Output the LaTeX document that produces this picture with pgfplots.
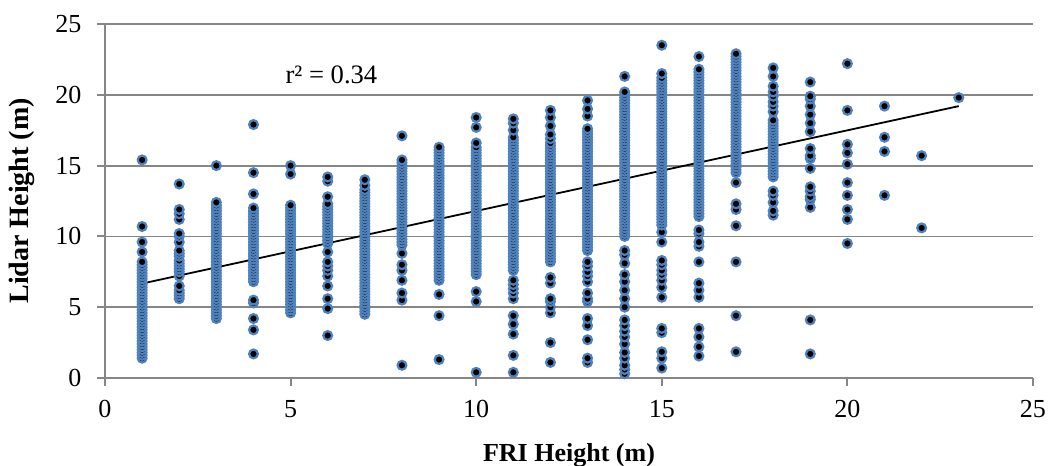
\documentclass[border=0pt]{standalone}
\usepackage{pgfplots}
\pgfplotsset{compat=1.18}
\usepackage{fontspec}
\setmainfont{Liberation Serif}
\definecolor{axisgray}{HTML}{868686}
\definecolor{mkblue}{HTML}{4F81BD}
\pgfplotsset{mk/.style={only marks, mark=*, mark size=2.2pt, mark options={fill=black, draw=mkblue, line width=1.1pt}}}
\begin{document}
\begin{tikzpicture}
\useasboundingbox (-52.5pt,-44pt) rectangle (473pt,189pt);
\begin{axis}[
  scale only axis, width=464pt, height=177pt,
  xmin=0, xmax=25, ymin=0, ymax=25,
  xtick={0,5,...,25}, ytick={0,5,...,25},
  axis lines*=left,
  axis line style={-, draw=axisgray, line width=1pt},
  ymajorgrids, major grid style={draw=axisgray, line width=0.9pt},
  tick style={draw=axisgray, line width=1pt},
  tick align=outside, major tick length=3.8pt,
  /pgf/number format/assume math mode=true,
  tick label style={font=\fontsize{13}{15}\selectfont},
  xticklabel style={yshift=-4pt},
  yticklabel style={xshift=-4.5pt},
  xlabel={FRI Height (m)}, ylabel={Lidar Height (m)},
  xlabel style={font=\fontsize{13}{15}\selectfont\bfseries, at={([yshift=-38.5pt]axis description cs:0.5,0)}, anchor=center},
  ylabel style={font=\fontsize{14}{16}\selectfont\bfseries, at={([xshift=-41.5pt]axis description cs:0,0.5)}, anchor=center, rotate=0},
  clip=false,
]
\addplot[mk] coordinates {(1,1.4)(1,1.6)(1,1.8)(1,2.0)(1,2.2)(1,2.4)(1,2.6)(1,2.8)(1,3.0)(1,3.2)(1,3.4)(1,3.6)(1,3.8)(1,4.0)(1,4.2)(1,4.4)(1,4.6)(1,4.8)(1,5.0)(1,5.2)(1,5.4)(1,5.6)(1,5.8)(1,6.0)(1,6.2)(1,6.4)(1,6.6)(1,6.8)(1,7.0)(1,7.2)(1,7.4)(1,7.6)(1,7.8)(1,8.0)(1,8.2)(1,8.9)(1,9.6)(1,10.7)(1,15.4)};
\addplot[mk] coordinates {(2,5.6)(2,5.8)(2,6.0)(2,6.2)(2,6.5)(2,7.2)(2,7.5)(2,7.7)(2,7.9)(2,8.1)(2,8.3)(2,8.6)(2,8.8)(2,9.0)(2,9.6)(2,10.0)(2,10.2)(2,11.2)(2,11.6)(2,11.9)(2,13.7)};
\addplot[mk] coordinates {(3,4.2)(3,4.4)(3,4.6)(3,4.8)(3,5.0)(3,5.2)(3,5.4)(3,5.6)(3,5.8)(3,6.0)(3,6.2)(3,6.4)(3,6.6)(3,6.8)(3,7.0)(3,7.2)(3,7.4)(3,7.6)(3,7.8)(3,8.0)(3,8.2)(3,8.4)(3,8.6)(3,8.8)(3,9.0)(3,9.2)(3,9.4)(3,9.6)(3,9.8)(3,10.0)(3,10.2)(3,10.4)(3,10.6)(3,10.8)(3,11.0)(3,11.2)(3,11.4)(3,11.6)(3,11.8)(3,12.0)(3,12.2)(3,12.4)(3,15.0)};
\addplot[mk] coordinates {(4,1.7)(4,3.4)(4,4.2)(4,5.3)(4,5.5)(4,6.8)(4,7.0)(4,7.2)(4,7.4)(4,7.6)(4,7.8)(4,8.0)(4,8.2)(4,8.4)(4,8.6)(4,8.8)(4,9.0)(4,9.2)(4,9.4)(4,9.6)(4,9.8)(4,10.0)(4,10.2)(4,10.4)(4,10.6)(4,10.8)(4,11.0)(4,11.2)(4,11.4)(4,11.6)(4,11.8)(4,12.0)(4,13.0)(4,14.5)(4,17.9)};
\addplot[mk] coordinates {(5,4.6)(5,4.8)(5,5.0)(5,5.2)(5,5.4)(5,5.6)(5,5.8)(5,6.0)(5,6.2)(5,6.4)(5,6.6)(5,6.8)(5,7.0)(5,7.2)(5,7.4)(5,7.6)(5,7.8)(5,8.0)(5,8.2)(5,8.4)(5,8.6)(5,8.8)(5,9.0)(5,9.2)(5,9.4)(5,9.6)(5,9.8)(5,10.0)(5,10.2)(5,10.4)(5,10.6)(5,10.8)(5,11.0)(5,11.2)(5,11.4)(5,11.6)(5,11.8)(5,12.0)(5,12.2)(5,14.4)(5,15.0)};
\addplot[mk] coordinates {(6,3.0)(6,4.9)(6,5.6)(6,6.5)(6,7.2)(6,7.6)(6,7.9)(6,8.2)(6,8.9)(6,9.5)(6,9.7)(6,9.9)(6,10.1)(6,10.3)(6,10.5)(6,10.7)(6,10.9)(6,11.1)(6,11.3)(6,11.5)(6,11.7)(6,11.9)(6,12.1)(6,12.3)(6,12.8)(6,13.9)(6,14.2)};
\addplot[mk] coordinates {(7,4.5)(7,4.7)(7,4.9)(7,5.1)(7,5.3)(7,5.5)(7,5.7)(7,5.9)(7,6.1)(7,6.3)(7,6.5)(7,6.7)(7,6.9)(7,7.1)(7,7.3)(7,7.5)(7,7.7)(7,7.9)(7,8.1)(7,8.3)(7,8.5)(7,8.7)(7,8.9)(7,9.1)(7,9.3)(7,9.5)(7,9.7)(7,9.9)(7,10.1)(7,10.3)(7,10.5)(7,10.7)(7,10.9)(7,11.1)(7,11.3)(7,11.5)(7,11.7)(7,11.9)(7,12.1)(7,12.3)(7,12.5)(7,12.7)(7,12.9)(7,13.1)(7,13.3)(7,13.6)(7,14.0)};
\addplot[mk] coordinates {(8,0.9)(8,5.5)(8,6.0)(8,6.9)(8,7.6)(8,8.0)(8,8.8)(8,9.4)(8,9.6)(8,9.8)(8,10.0)(8,10.2)(8,10.4)(8,10.6)(8,10.8)(8,11.0)(8,11.2)(8,11.4)(8,11.6)(8,11.8)(8,12.0)(8,12.2)(8,12.4)(8,12.6)(8,12.8)(8,13.0)(8,13.2)(8,13.4)(8,13.6)(8,13.8)(8,14.0)(8,14.2)(8,14.4)(8,14.6)(8,14.8)(8,15.0)(8,15.2)(8,15.4)(8,17.1)};
\addplot[mk] coordinates {(9,1.3)(9,4.4)(9,5.9)(9,6.9)(9,7.1)(9,7.3)(9,7.5)(9,7.7)(9,7.9)(9,8.1)(9,8.3)(9,8.5)(9,8.7)(9,8.9)(9,9.1)(9,9.3)(9,9.5)(9,9.7)(9,9.9)(9,10.1)(9,10.3)(9,10.5)(9,10.7)(9,10.9)(9,11.1)(9,11.3)(9,11.5)(9,11.7)(9,11.9)(9,12.1)(9,12.3)(9,12.5)(9,12.7)(9,12.9)(9,13.1)(9,13.3)(9,13.5)(9,13.7)(9,13.9)(9,14.1)(9,14.3)(9,14.5)(9,14.7)(9,14.9)(9,15.1)(9,15.3)(9,15.5)(9,15.7)(9,15.9)(9,16.1)(9,16.3)};
\addplot[mk] coordinates {(10,0.4)(10,5.4)(10,6.1)(10,7.3)(10,7.5)(10,7.7)(10,7.9)(10,8.1)(10,8.3)(10,8.5)(10,8.7)(10,8.9)(10,9.1)(10,9.3)(10,9.5)(10,9.7)(10,9.9)(10,10.1)(10,10.3)(10,10.5)(10,10.7)(10,10.9)(10,11.1)(10,11.3)(10,11.5)(10,11.7)(10,11.9)(10,12.1)(10,12.3)(10,12.5)(10,12.7)(10,12.9)(10,13.1)(10,13.3)(10,13.5)(10,13.7)(10,13.9)(10,14.1)(10,14.3)(10,14.5)(10,14.7)(10,14.9)(10,15.1)(10,15.3)(10,15.5)(10,15.7)(10,15.9)(10,16.1)(10,16.3)(10,16.6)(10,17.7)(10,18.4)};
\addplot[mk] coordinates {(11,0.4)(11,1.6)(11,3.1)(11,3.8)(11,4.4)(11,5.6)(11,6.0)(11,6.3)(11,6.6)(11,6.9)(11,7.6)(11,7.8)(11,8.0)(11,8.2)(11,8.4)(11,8.6)(11,8.8)(11,9.0)(11,9.2)(11,9.4)(11,9.6)(11,9.8)(11,10.0)(11,10.2)(11,10.4)(11,10.6)(11,10.8)(11,11.0)(11,11.2)(11,11.4)(11,11.6)(11,11.8)(11,12.0)(11,12.2)(11,12.4)(11,12.6)(11,12.8)(11,13.0)(11,13.2)(11,13.4)(11,13.6)(11,13.8)(11,14.0)(11,14.2)(11,14.4)(11,14.6)(11,14.8)(11,15.0)(11,15.2)(11,15.4)(11,15.6)(11,15.8)(11,16.0)(11,16.2)(11,16.4)(11,16.6)(11,16.8)(11,17.0)(11,17.5)(11,18.0)(11,18.3)};
\addplot[mk] coordinates {(12,1.1)(12,2.5)(12,4.6)(12,5.0)(12,5.4)(12,5.6)(12,6.7)(12,7.1)(12,8.2)(12,8.4)(12,8.6)(12,8.8)(12,9.0)(12,9.2)(12,9.4)(12,9.6)(12,9.8)(12,10.0)(12,10.2)(12,10.4)(12,10.6)(12,10.8)(12,11.0)(12,11.2)(12,11.4)(12,11.6)(12,11.8)(12,12.0)(12,12.2)(12,12.4)(12,12.6)(12,12.8)(12,13.0)(12,13.2)(12,13.4)(12,13.6)(12,13.8)(12,14.0)(12,14.2)(12,14.4)(12,14.6)(12,14.8)(12,15.0)(12,15.2)(12,15.4)(12,15.6)(12,15.8)(12,16.0)(12,16.2)(12,16.4)(12,16.6)(12,16.9)(12,17.2)(12,17.8)(12,18.4)(12,18.9)};
\addplot[mk] coordinates {(13,1.1)(13,1.4)(13,2.7)(13,3.7)(13,4.2)(13,5.4)(13,5.6)(13,6.0)(13,6.8)(13,7.2)(13,7.5)(13,7.9)(13,8.2)(13,9.0)(13,9.2)(13,9.4)(13,9.6)(13,9.8)(13,10.0)(13,10.2)(13,10.4)(13,10.6)(13,10.8)(13,11.0)(13,11.2)(13,11.4)(13,11.6)(13,11.8)(13,12.0)(13,12.2)(13,12.4)(13,12.6)(13,12.8)(13,13.0)(13,13.2)(13,13.4)(13,13.6)(13,13.8)(13,14.0)(13,14.2)(13,14.4)(13,14.6)(13,14.8)(13,15.0)(13,15.2)(13,15.4)(13,15.6)(13,15.8)(13,16.0)(13,16.2)(13,16.4)(13,16.6)(13,16.8)(13,17.0)(13,17.2)(13,17.4)(13,17.6)(13,18.5)(13,19.0)(13,19.6)};
\addplot[mk] coordinates {(14,0.3)(14,0.6)(14,0.9)(14,1.4)(14,1.8)(14,2.4)(14,2.9)(14,3.3)(14,3.7)(14,4.1)(14,5.0)(14,5.6)(14,6.2)(14,6.8)(14,7.3)(14,8.1)(14,8.7)(14,9.0)(14,10.0)(14,10.2)(14,10.4)(14,10.6)(14,10.8)(14,11.0)(14,11.2)(14,11.4)(14,11.6)(14,11.8)(14,12.0)(14,12.2)(14,12.4)(14,12.6)(14,12.8)(14,13.0)(14,13.2)(14,13.4)(14,13.6)(14,13.8)(14,14.0)(14,14.2)(14,14.4)(14,14.6)(14,14.8)(14,15.0)(14,15.2)(14,15.4)(14,15.6)(14,15.8)(14,16.0)(14,16.2)(14,16.4)(14,16.6)(14,16.8)(14,17.0)(14,17.2)(14,17.4)(14,17.6)(14,17.8)(14,18.0)(14,18.2)(14,18.4)(14,18.6)(14,18.8)(14,19.0)(14,19.2)(14,19.4)(14,19.6)(14,19.8)(14,20.0)(14,20.2)(14,21.3)};
\addplot[mk] coordinates {(15,0.7)(15,1.4)(15,1.85)(15,3.2)(15,3.5)(15,5.7)(15,6.4)(15,6.9)(15,7.3)(15,7.6)(15,8.0)(15,8.3)(15,9.6)(15,10.3)(15,10.8)(15,11.0)(15,11.2)(15,11.4)(15,11.6)(15,11.8)(15,12.0)(15,12.2)(15,12.4)(15,12.6)(15,12.8)(15,13.0)(15,13.2)(15,13.4)(15,13.6)(15,13.8)(15,14.0)(15,14.2)(15,14.4)(15,14.6)(15,14.8)(15,15.0)(15,15.2)(15,15.4)(15,15.6)(15,15.8)(15,16.0)(15,16.2)(15,16.4)(15,16.6)(15,16.8)(15,17.0)(15,17.2)(15,17.4)(15,17.6)(15,17.8)(15,18.0)(15,18.2)(15,18.4)(15,18.6)(15,18.8)(15,19.0)(15,19.2)(15,19.4)(15,19.6)(15,19.8)(15,20.0)(15,20.2)(15,20.4)(15,20.6)(15,20.8)(15,21.0)(15,21.2)(15,21.5)(15,23.5)};
\addplot[mk] coordinates {(16,1.55)(16,2.2)(16,2.9)(16,3.5)(16,5.7)(16,6.2)(16,6.7)(16,8.2)(16,9.3)(16,9.6)(16,10.2)(16,10.45)(16,11.4)(16,11.6)(16,11.8)(16,12.0)(16,12.2)(16,12.4)(16,12.6)(16,12.8)(16,13.0)(16,13.2)(16,13.4)(16,13.6)(16,13.8)(16,14.0)(16,14.2)(16,14.4)(16,14.6)(16,14.8)(16,15.0)(16,15.2)(16,15.4)(16,15.6)(16,15.8)(16,16.0)(16,16.2)(16,16.4)(16,16.6)(16,16.8)(16,17.0)(16,17.2)(16,17.4)(16,17.6)(16,17.8)(16,18.0)(16,18.2)(16,18.4)(16,18.6)(16,18.8)(16,19.0)(16,19.2)(16,19.4)(16,19.6)(16,19.8)(16,20.0)(16,20.2)(16,20.4)(16,20.6)(16,20.8)(16,21.0)(16,21.2)(16,21.4)(16,21.6)(16,21.8)(16,22.7)};
\addplot[mk] coordinates {(17,1.85)(17,4.4)(17,8.2)(17,10.75)(17,11.9)(17,12.3)(17,13.8)(17,14.5)(17,14.7)(17,14.9)(17,15.1)(17,15.3)(17,15.5)(17,15.7)(17,15.9)(17,16.1)(17,16.3)(17,16.5)(17,16.7)(17,16.9)(17,17.1)(17,17.3)(17,17.5)(17,17.7)(17,17.9)(17,18.1)(17,18.3)(17,18.5)(17,18.7)(17,18.9)(17,19.1)(17,19.3)(17,19.5)(17,19.7)(17,19.9)(17,20.1)(17,20.3)(17,20.5)(17,20.7)(17,20.9)(17,21.1)(17,21.3)(17,21.5)(17,21.7)(17,21.9)(17,22.1)(17,22.3)(17,22.5)(17,22.7)(17,22.9)};
\addplot[mk] coordinates {(18,11.5)(18,11.8)(18,12.4)(18,12.9)(18,13.2)(18,14.2)(18,14.4)(18,14.6)(18,14.8)(18,15.0)(18,15.2)(18,15.4)(18,15.6)(18,15.8)(18,16.0)(18,16.2)(18,16.4)(18,16.6)(18,16.8)(18,17.0)(18,17.2)(18,17.4)(18,17.6)(18,17.8)(18,18.0)(18,18.2)(18,18.8)(18,19.2)(18,19.5)(18,19.9)(18,20.2)(18,20.6)(18,21.3)(18,21.9)};
\addplot[mk] coordinates {(19,1.7)(19,4.1)(19,12.05)(19,12.6)(19,12.8)(19,13.2)(19,13.5)(19,14.8)(19,15.5)(19,15.7)(19,16.2)(19,17.4)(19,18.0)(19,18.6)(19,19.2)(19,19.7)(19,19.9)(19,20.9)};
\addplot[mk] coordinates {(20,9.5)(20,11.2)(20,11.9)(20,12.9)(20,13.8)(20,15.1)(20,15.9)(20,16.5)(20,18.9)(20,22.2)};
\addplot[mk] coordinates {(21,12.9)(21,16.0)(21,17.0)(21,19.2)};
\addplot[mk] coordinates {(22,10.6)(22,15.7)};
\addplot[mk] coordinates {(23,19.8)};
\addplot[black, line width=0.9pt, no marks] coordinates {(1,6.67)(23,19.2)};
\node[font=\fontsize{13.3}{15}\selectfont] at (axis cs:6.1,21.4) {r² = 0.34};
\end{axis}
\end{tikzpicture}
\end{document}
